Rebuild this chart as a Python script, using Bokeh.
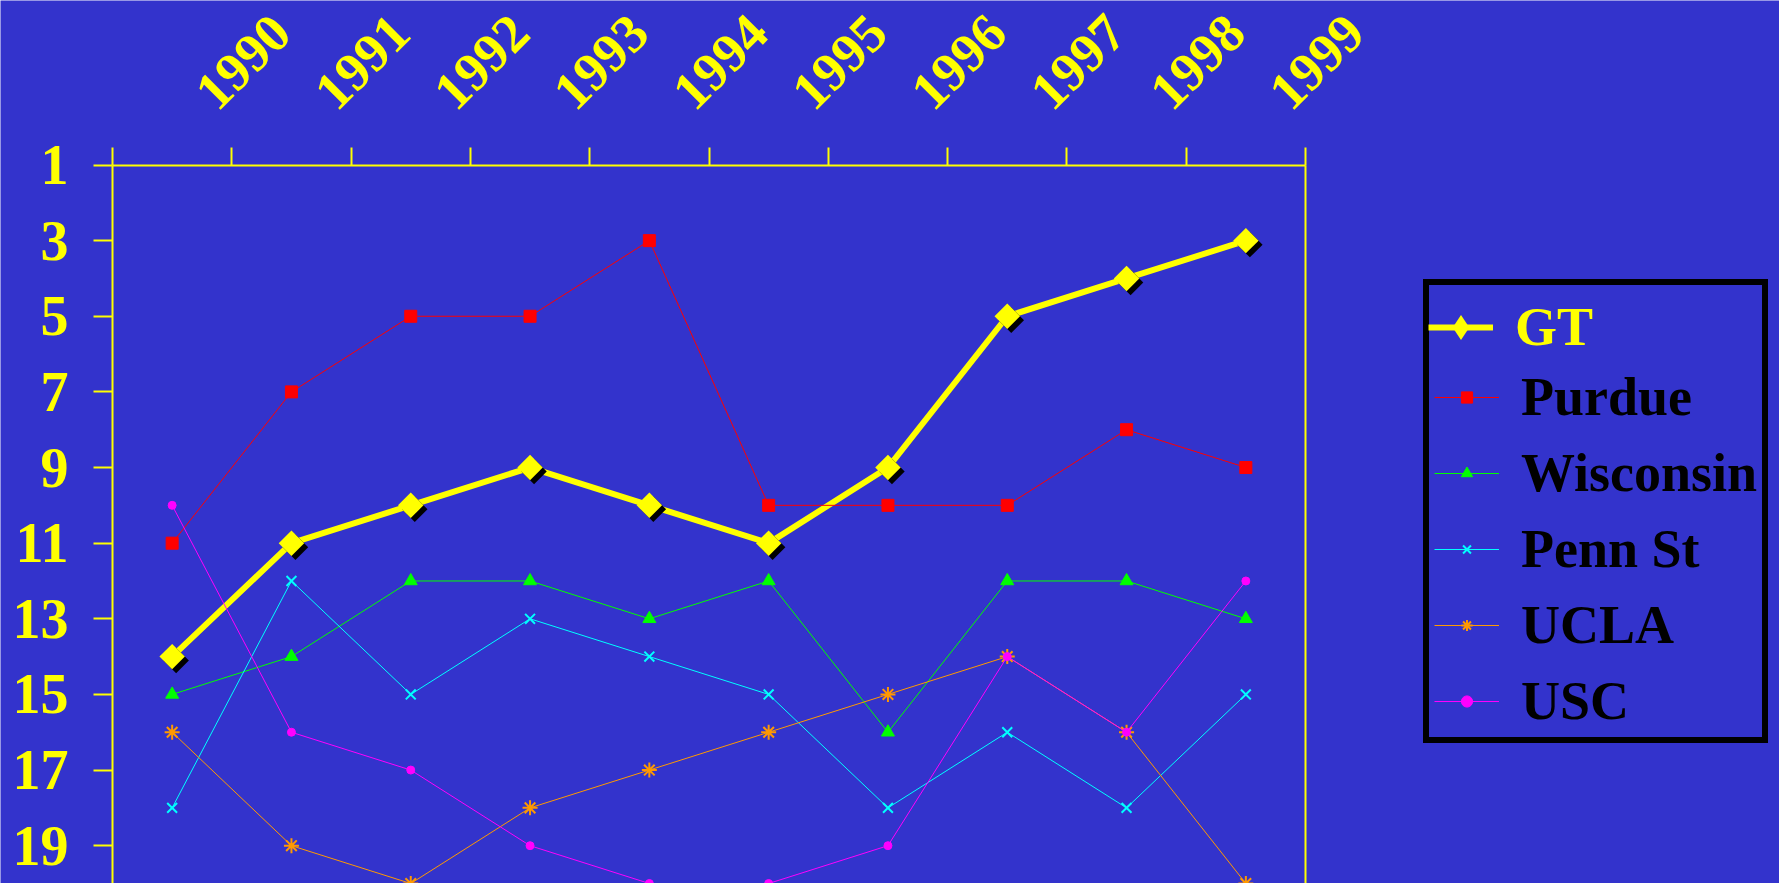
from math import pi
from bokeh.plotting import figure
from bokeh.models import (ColumnDataSource, Range1d, FixedTicker, LinearAxis,
                          Legend, LegendItem, AllLabels)
from bokeh.transform import dodge
from bokeh.embed import file_html
from bokeh.resources import INLINE

# ---------------- data ----------------
years = ["1990", "1991", "1992", "1993", "1994", "1995", "1996", "1997", "1998", "1999"]
y_ticks = [1, 3, 5, 7, 9, 11, 13, 15, 17, 19]
gt = [14, 11, 10, 9, 10, 11, 9, 5, 4, 3]
purdue = [11, 7, 5, 5, 3, 10, 10, 10, 8, 9]
wisconsin = [15, 14, 12, 12, 13, 12, 16, 12, 12, 13]
penn_st = [18, 12, 15, 13, 14, 15, 18, 16, 18, 15]
ucla = [16, 19, 20, 18, 17, 16, 15, 14, 16, 20]
usc = [10, 16, 17, 19, 20, 20, 19, 14, 16, 12]
series_names = ["GT", "Purdue", "Wisconsin", "Penn St", "UCLA", "USC"]

# ---------------- style / layout ----------------
BG = "#3333CC"
YEL = "#FFFF00"
FONT = "Liberation Serif"
W, H = 1779, 883
PLOT_LEFT, PLOT_RIGHT, PLOT_TOP = 112, 1305, 164.5   # plot-area edges, px
LABEL_DX = -27          # year label anchor relative to its boundary tick, px

n = len(years)
xs = [i + 0.5 for i in range(n)]
boundaries = list(range(n + 1))
top_rank = 1
bottom_rank = max(max(s) for s in [gt, purdue, wisconsin, penn_st, ucla, usc])

ux = (PLOT_RIGHT - PLOT_LEFT) / n
uy = (H - PLOT_TOP) / (bottom_rank - top_rank)

src = ColumnDataSource(dict(x=xs, gt=gt, purdue=purdue, wisconsin=wisconsin,
                            penn_st=penn_st, ucla=ucla, usc=usc))

p = figure(width=W, height=H, output_backend="svg", toolbar_location=None,
           x_range=Range1d(-PLOT_LEFT / ux, n + (W - PLOT_RIGHT) / ux),
           y_range=Range1d(bottom_rank, top_rank - PLOT_TOP / uy),
           x_axis_location="above", y_axis_location="left",
           background_fill_color=BG, border_fill_color=BG, outline_line_color=None,
           min_border_left=0, min_border_right=0, min_border_top=0,
           min_border_bottom=0)
p.grid.visible = False

# top axis: tick marks at category boundaries
xa = p.xaxis[0]
xa.fixed_location = top_rank
xa.bounds = (0, n)
xa.ticker = FixedTicker(ticks=boundaries, minor_ticks=[])
xa.axis_line_color = YEL
xa.axis_line_width = 2
xa.major_tick_line_color = YEL
xa.major_tick_line_width = 2
xa.major_tick_out = 18
xa.major_tick_in = 0
xa.minor_tick_line_color = None
xa.major_label_text_color = None

# top axis: rotated year labels
label_pos = [b + LABEL_DX / ux for b in boundaries[1:]]
xl = LinearAxis(fixed_location=top_rank,
                ticker=FixedTicker(ticks=label_pos, minor_ticks=[]),
                major_label_overrides={pos: yr for pos, yr in zip(label_pos, years)},
                major_label_policy=AllLabels(),
                axis_line_color=None, major_tick_line_color=None,
                minor_tick_line_color=None, major_tick_out=0, major_tick_in=0,
                major_label_orientation=pi / 4, major_label_standoff=65,
                major_label_text_font=FONT, major_label_text_font_style="bold",
                major_label_text_font_size="54px", major_label_text_color=YEL)
p.add_layout(xl, "above")

ya = p.yaxis[0]
ya.fixed_location = 0
ya.bounds = (top_rank, bottom_rank)
ya.ticker = FixedTicker(ticks=y_ticks, minor_ticks=[])
ya.axis_line_color = YEL
ya.axis_line_width = 2
ya.major_tick_line_color = YEL
ya.major_tick_line_width = 2
ya.major_tick_out = 19
ya.major_tick_in = 0
ya.minor_tick_line_color = None
ya.major_label_standoff = 25
ya.major_label_text_font = FONT
ya.major_label_text_font_style = "bold"
ya.major_label_text_font_size = "56px"
ya.major_label_text_color = YEL
ya.major_label_policy = AllLabels()

ra = LinearAxis(fixed_location=n, bounds=(top_rank, bottom_rank),
                ticker=FixedTicker(ticks=[], minor_ticks=[]), axis_line_color=YEL,
                axis_line_width=2, major_tick_line_color=None, minor_tick_line_color=None,
                major_label_text_color=None)
p.add_layout(ra, "right")

# ---------------- series ----------------
r_gt_line = p.line("x", "gt", source=src, line_color=YEL, line_width=6)
# diamond used for the legend glyph; hidden under the rotated squares in the plot
gt_legend_mk = p.scatter("x", "gt", source=src, marker="diamond", size=24,
                         fill_color=YEL, line_color=None)
p.scatter(x=dodge("x", 4 / ux), y=dodge("gt", 4 / uy), source=src, marker="square",
          size=18, angle=pi / 4, fill_color="black", line_color=None)
p.scatter("x", "gt", source=src, marker="square", size=18, angle=pi / 4,
          fill_color=YEL, line_color=None)

styles = {
    "purdue": dict(color="#FF0000", marker="square", size=12, lw=1),
    "wisconsin": dict(color="#00FF00", marker="triangle", size=13, lw=1),
    "penn_st": dict(color="#00FFFF", marker="x", size=14, lw=2),
    "ucla": dict(color="#FF9900", marker="asterisk", size=15, lw=2),
    "usc": dict(color="#FF00FF", marker="circle", size=8, lw=1),
}
other_items = []
for key, name in zip(["purdue", "wisconsin", "penn_st", "ucla", "usc"], series_names[1:]):
    st = styles[key]
    lr = p.line("x", key, source=src, line_color=st["color"], line_width=1)
    mr = p.scatter("x", key, source=src, marker=st["marker"], size=st["size"],
                   fill_color=st["color"], line_color=st["color"], line_width=st["lw"])
    other_items.append(LegendItem(label=name, renderers=[lr, mr]))

# ---------------- legend ----------------
LEG_X, LEG_Y = 1423, 140
dummy = p.line(x=[], y=[], line_alpha=0)
common = dict(orientation="vertical", padding=5, spacing=14, label_height=62,
              glyph_width=65, label_standoff=22, label_text_font=FONT,
              label_text_font_style="bold", label_text_font_size="54px",
              border_line_width=6, background_fill_alpha=0, margin=0)
legA = Legend(items=[LegendItem(label=" ", renderers=[dummy])] + other_items,
              location=(LEG_X, LEG_Y), glyph_height=28, label_text_color="black",
              border_line_color="black", border_line_alpha=1, **common)
legB = Legend(items=[LegendItem(label=series_names[0], renderers=[r_gt_line, gt_legend_mk])],
              location=(LEG_X, LEG_Y + 5 * (62 + 14)), glyph_height=62,
              label_text_color=YEL, border_line_color="black", border_line_alpha=0,
              **common)
p.add_layout(legA, "center")
p.add_layout(legB, "center")

open("out.html", "w").write(file_html(p, INLINE))
